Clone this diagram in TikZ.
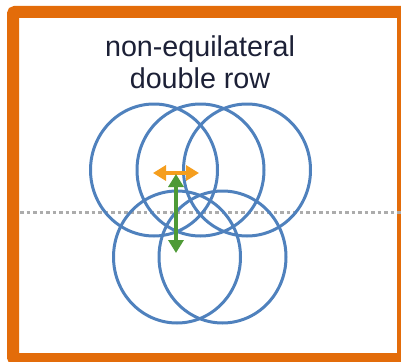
\documentclass[tikz,border=0pt]{standalone}
\usepackage{fontspec}
\setmainfont{Liberation Sans}
\usetikzlibrary{arrows.meta}
\definecolor{frameorange}{HTML}{E36C0A}
\definecolor{ringblue}{HTML}{4F81BD}
\definecolor{pitchorange}{HTML}{F59E1E}
\definecolor{rowgreen}{HTML}{4E9A36}
\definecolor{titlenavy}{HTML}{1C2036}
\tikzset{
  ring/.style={draw=ringblue, line width=3pt},
  spacing/.style={line width=3.5pt, {Triangle[length=13pt,width=15pt]}-{Triangle[length=13pt,width=15pt]}}
}
\begin{document}
\begin{tikzpicture}[x=1pt,y=-1pt]
\useasboundingbox (0,0) rectangle (401,361);
\def\rx{63.5};
\def\ry{66};
% frame
\draw [frameorange, line width=12pt, rounded corners=2pt] (13,12) rectangle (403,359);
% centre line
\draw [gray!65, line width=3pt, dash pattern=on 3.5pt off 3pt] (20,212) -- (401,212);
% top row
\foreach \cx in {154,200.5,247} {
  \draw [ring] (\cx,170) ellipse [x radius=\rx, y radius=\ry];
}
% bottom row
\foreach \cx in {177,222.5} {
  \draw [ring] (\cx,257) ellipse [x radius=\rx, y radius=\ry];
}
\node [text=titlenavy, align=center, inner sep=0pt, font=\fontsize{28.7}{32}\selectfont] (title) at (200,62) {non-equilateral\\double row};
\coordinate (leftpitch) at (153,173);
\coordinate (rightpitch) at (199,173);
\coordinate (toprow) at (176,174);
\coordinate (bottomrow) at (176,253);
\draw [spacing, pitchorange] (leftpitch) -- (rightpitch);
\draw [spacing, rowgreen] (toprow) -- (bottomrow);
\end{tikzpicture}
\end{document}
